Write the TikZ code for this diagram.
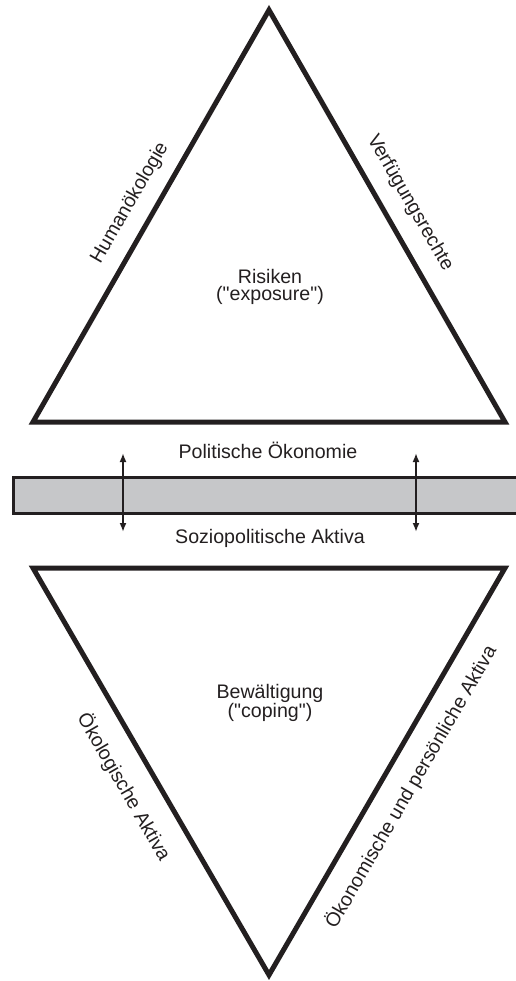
\documentclass[tikz,border=0pt]{standalone}
\usepackage{fontspec}
\setmainfont{Liberation Sans}
\usetikzlibrary{arrows.meta,positioning}
\definecolor{inkBlack}{HTML}{231F20}
\definecolor{bandGray}{HTML}{C6C7C9}
\tikzset{
  tri/.style={draw=inkBlack, line width=5pt, line join=miter, miter limit=10},
  band/.style={draw=inkBlack, line width=3pt, fill=bandGray},
  lbl/.style={font=\fontsize{19.6}{17.7}\selectfont, align=center, text=inkBlack, inner sep=0pt},
  sidelbl/.style={lbl, anchor=center},
  arr/.style={{Latex[length=9pt,width=7pt]}-{Latex[length=9pt,width=7pt]}, line width=2pt, draw=inkBlack}
}

\begin{document}
\begin{tikzpicture}[x=1pt, y=-1pt]
\useasboundingbox (0,0) rectangle (515,981);
% upper triangle
\coordinate (riskTop) at (269,10);
\coordinate (riskLeft) at (33,422);
\coordinate (riskRight) at (505,422);
\draw[tri] (riskTop) -- (riskLeft) -- (riskRight) -- cycle;
\node[lbl] (risk) at (270,287) {Risiken\\(\textquotedbl exposure\textquotedbl)};
\node[sidelbl, rotate=60] (human) at (130,203) {Humanökologie};
\node[sidelbl, rotate=-60] (rights) at (410,203) {Verfügungsrechte};
% band
\draw[band] (13,477) rectangle (525,513);
\node[lbl] (polit) at (268,450) {Politische Ökonomie};
\node[lbl] (sozio) at (270,538) {Soziopolitische Aktiva};
\coordinate (arrLtop) at (123,453);
\coordinate (arrLbot) at (123,532);
\coordinate (arrRtop) at (416,453);
\coordinate (arrRbot) at (416,532);
\draw[arr] (arrLtop) -- (arrLbot);
\draw[arr] (arrRtop) -- (arrRbot);
% lower triangle
\coordinate (copeLeft) at (33,568);
\coordinate (copeRight) at (505,568);
\coordinate (copeBot) at (269,975);
\draw[tri] (copeLeft) -- (copeRight) -- (copeBot) -- cycle;
\node[lbl] (cope) at (270,703) {Bewältigung\\(\textquotedbl coping\textquotedbl)};
\node[sidelbl, rotate=-60] (eco) at (124,787) {Ökologische Aktiva};
\node[sidelbl, rotate=60] (econ) at (411,787) {Ökonomische und persönliche Aktiva};
\end{tikzpicture}
\end{document}
